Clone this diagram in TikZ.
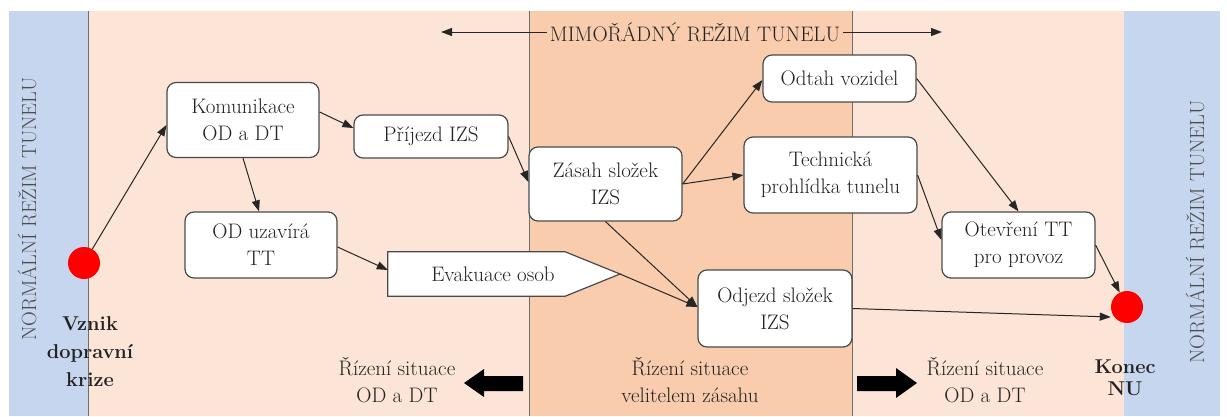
\documentclass[tikz,border=0pt]{standalone}
\usepackage{fontspec}
\usetikzlibrary{arrows.meta}
\definecolor{normalblue}{HTML}{C6D6EE}
\definecolor{lightpeach}{HTML}{FCE5D7}
\definecolor{darkpeach}{HTML}{F8CCAD}
\definecolor{edgegrey}{HTML}{4A4A4A}
\definecolor{inkgrey}{HTML}{222222}
\definecolor{dividergrey}{HTML}{6E6E6E}
\definecolor{sidegrey}{HTML}{4D4D4D}

\begin{document}
\begin{tikzpicture}[x=1pt,y=-1pt,
  txt/.style={font=\rmfamily\fontsize{21}{27}\selectfont, text=inkgrey, align=center, inner sep=0pt},
  boldtxt/.style={font=\rmfamily\fontsize{20}{28}\selectfont\bfseries, text=inkgrey, align=center, inner sep=0pt},
  box/.style={txt, draw=edgegrey, line width=1.2pt, fill=white, rounded corners=9pt},
  flow/.style={draw=black!85, line width=1pt, -{Triangle[length=11pt,width=8pt]}},
  event/.style={circle, fill=red, draw=none, minimum size=32pt, inner sep=0pt},
  sidelabel/.style={font=\rmfamily\fontsize{20.5}{24}\selectfont, text=sidegrey, rotate=90, inner sep=0pt},
  bigarrow/.style={fill=black, draw=none}
]
\useasboundingbox (0,0) rectangle (1227,416);

% tunnel-mode bands
\fill[white] (0,0) rectangle (1227,416);
\fill[normalblue] (9,11) rectangle (88,416);
\fill[lightpeach] (88,11) rectangle (529,416);
\fill[darkpeach] (529,11) rectangle (852,416);
\fill[lightpeach] (852,11) rectangle (1124,416);
\fill[normalblue] (1124,11) rectangle (1220,416);
\foreach \xx in {88,529,852}
  \draw[dividergrey, line width=1pt] (\xx,11) -- (\xx,416);

% side captions
\node[sidelabel] (leftmode) at (27,209) {NORMÁLNÍ REŽIM TUNELU};
\node[sidelabel] (rightmode) at (1195,232) {NORMÁLNÍ REŽIM TUNELU};

% header with extent arrows
\node[txt, fill=darkpeach, inner xsep=3pt] (mode) at (695,32) {MIMOŘÁDNÝ REŽIM TUNELU};
\coordinate (modeL) at (441,32);
\coordinate (modeR) at (942,32);
\draw[flow] (mode.west) -- (modeL);
\draw[flow] (mode.east) -- (modeR);

% process boxes
\node[box, minimum width=152pt, minimum height=75pt] (kom) at (243,120) {Komunikace\\OD a DT};
\node[box, minimum width=154pt, minimum height=43pt] (prij) at (431,136.5) {Příjezd IZS};
\node[box, minimum width=152pt, minimum height=66pt] (odu) at (261,245) {OD uzavírá\\TT};
\node[box, minimum width=153pt, minimum height=74pt] (zas) at (605.5,184) {Zásah složek\\IZS};
\node[box, minimum width=153pt, minimum height=47pt] (odt) at (839.5,78.5) {Odtah vozidel};
\node[box, minimum width=173pt, minimum height=76pt] (tech) at (830.5,175) {Technická\\prohlídka tunelu};
\node[box, minimum width=153pt, minimum height=66pt] (ote) at (1018.5,245) {Otevření TT\\pro provoz};
\node[box, minimum width=154pt, minimum height=77pt] (odj) at (775,308.5) {Odjezd složek\\IZS};

% evacuation pentagon
\node[minimum width=177pt, minimum height=44pt, inner sep=0pt] (evak) at (476.5,274) {};
\coordinate (evtip) at (620,274);
\draw[edgegrey, line width=1.2pt, fill=white, line join=miter]
  (evak.north west) -- (evak.north east) -- (evtip) -- (evak.south east) -- (evak.south west) -- cycle;
\node[txt] (evaktext) at (493,274) {Evakuace osob};

% start and end events
\node[event] (start) at (84,263) {};
\node[event] (finish) at (1127,307) {};
\node[boldtxt] (startlbl) at (90,352) {Vznik\\dopravní\\krize};
\node[boldtxt, font=\rmfamily\fontsize{20}{22}\selectfont\bfseries] (finishlbl) at (1125,378) {Konec\\NU};

% flow connectors
\draw[flow] (start) -- ([yshift=-5pt]kom.west);
\draw[flow] ([yshift=8pt]kom.east) -- ([yshift=8.5pt]prij.west);
\draw[flow] (kom.south) -- ([xshift=-2pt]odu.north);
\draw[flow] ([yshift=-2pt]odu.east) -- ([yshift=4pt]evak.west);
\draw[flow] (prij.east) -- ([yshift=2pt]zas.west);
\draw[flow] (zas.east) -- ([yshift=-1.5pt]odt.west);
\draw[flow] (zas.east) -- (tech.west);
\draw[flow] (zas.south) -- ([yshift=1.5pt]odj.west);
\draw[flow] (evtip) -- ([yshift=1.5pt]odj.west);
\draw[flow] (odt.east) -- (ote.north);
\draw[flow] (tech.east) -- ([yshift=5pt]ote.west);
\draw[flow] (ote.east) -- (finish);
\draw[flow] (odj.east) -- ([yshift=-10pt]finish.west);

% control captions
\node[txt] (ctrlL) at (397,380) {Řízení situace\\OD a DT};
\node[txt] (ctrlM) at (690,380) {Řízení situace\\velitelem zásahu};
\node[txt] (ctrlR) at (985,380) {Řízení situace\\OD a DT};

% heavy hand-over arrows
\fill[bigarrow] (464,383) -- (484,369) -- (484,376) -- (523,376) -- (523,391) -- (484,391) -- (484,397) -- cycle;
\fill[bigarrow] (917,383) -- (896,368) -- (896,376) -- (857,376) -- (857,391) -- (896,391) -- (896,398) -- cycle;
\end{tikzpicture}
\end{document}
